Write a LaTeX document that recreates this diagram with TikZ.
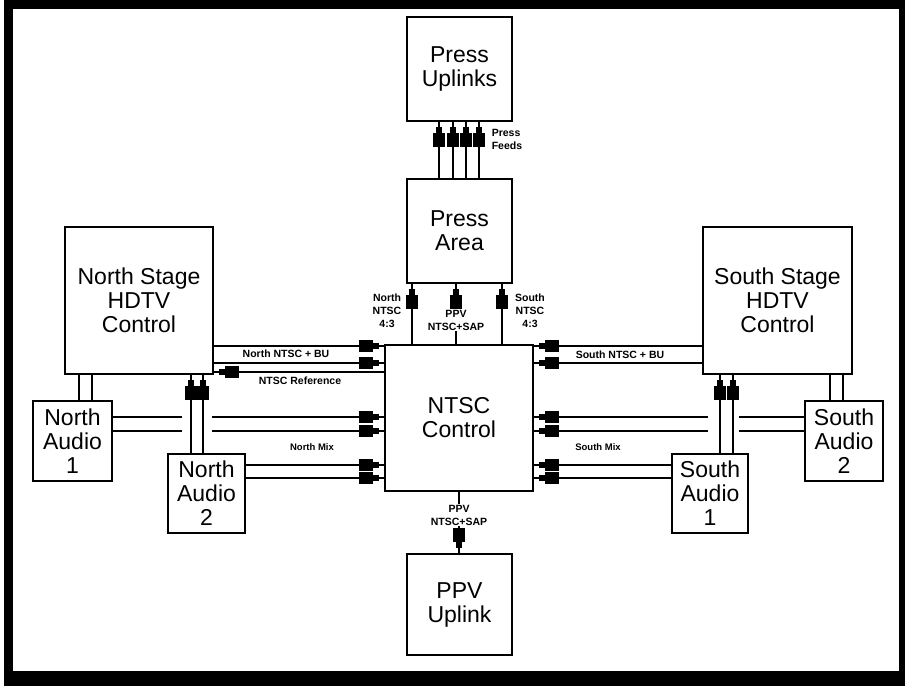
\documentclass[tikz,border=0pt]{standalone}
\usepackage{fontspec}
\setmainfont{Liberation Sans}
\usetikzlibrary{arrows.meta, positioning}

\begin{document}
\begin{tikzpicture}[x=1pt, y=-1pt, line width=1.5pt,
    unit/.style={draw, line width=1.5pt, align=center, inner sep=0pt,
        font=\fontsize{23}{24}\selectfont},
    tag/.style={align=center, inner sep=1pt,
        font=\fontsize{10.5}{13}\selectfont\bfseries},
    plug/.style={-{Rectangle[length=14pt,width=12pt,line width=0pt]%
        Rectangle[length=6pt,width=6pt,line width=0pt]%
        Rectangle[length=5pt,width=1.5pt,line width=0pt]}}]

    % frame
    \useasboundingbox (0,0) rectangle (905,686);
    \fill (4,0) rectangle (905,686);
    \fill[white] (13,9) rectangle (899,671);

    % units
    \node[unit, minimum width=105pt, minimum height=104pt] (uplinks) at (459.5,69) {Press\\Uplinks};
    \node[unit, minimum width=105pt, minimum height=104pt] (press) at (459.5,231) {Press\\Area};
    \node[unit, minimum width=148pt, minimum height=146pt] (ntsc) at (459,418) {NTSC\\Control};
    \node[unit, minimum width=105pt, minimum height=101pt] (ppv) at (459.5,604.5) {PPV\\Uplink};
    \node[unit, minimum width=148pt, minimum height=147pt] (nstage) at (139,300.5) {North Stage\\HDTV\\Control};
    \node[unit, minimum width=149pt, minimum height=147pt] (sstage) at (777.5,300.5) {South Stage\\HDTV\\Control};
    \node[unit, minimum width=79pt, minimum height=80pt] (naudioA) at (72.5,441) {North\\Audio\\1};
    \node[unit, minimum width=77pt, minimum height=79pt] (naudioB) at (206.5,493.5) {North\\Audio\\2};
    \node[unit, minimum width=76pt, minimum height=79pt] (saudioA) at (710,493.5) {South\\Audio\\1};
    \node[unit, minimum width=78pt, minimum height=80pt] (saudioB) at (844,441) {South\\Audio\\2};

    % press feeds
    \foreach \x in {439,453,466,479}
        \draw[plug] (\x,0 |- press.north) -- (\x,0 |- uplinks.south);
    \node[tag, align=left, anchor=west] (feeds) at (490,139) {Press\\Feeds};

    % ntsc to press area
    \draw[plug] (412,0 |- ntsc.north) -- (412,0 |- press.south);
    \node[tag] (nfeed) at (387,311) {North\\NTSC\\4:3};
    \draw[plug] (456,0 |- ntsc.north) -- node[tag, fill=white, pos=.4] (ppvup) {PPV\\NTSC+SAP} (456,0 |- press.south);
    \draw[plug] (502,0 |- ntsc.north) -- (502,0 |- press.south);
    \node[tag] (sfeed) at (530,311) {South\\NTSC\\4:3};

    % stage feeds
    \foreach \y in {346,363} {
        \draw[plug] (nstage.east |- 0,\y) -- (ntsc.west |- 0,\y);
        \draw[plug] (sstage.west |- 0,\y) -- (ntsc.east |- 0,\y);
    }
    \node[tag] (nbu) at (286,354) {North NTSC + BU};
    \node[tag] (sbu) at (620,355) {South NTSC + BU};
    \draw[plug] (ntsc.west |- 0,372) -- (nstage.east |- 0,372);
    \node[tag] (nref) at (300,381) {NTSC Reference};

    % mix lines
    \foreach \y in {417,431} {
        \draw[plug] (naudioA.east |- 0,\y) -- (ntsc.west |- 0,\y);
        \draw[plug] (saudioB.west |- 0,\y) -- (ntsc.east |- 0,\y);
    }
    \foreach \y in {465,478} {
        \draw[plug] (naudioB.east |- 0,\y) -- (ntsc.west |- 0,\y);
        \draw[plug] (saudioA.west |- 0,\y) -- (ntsc.east |- 0,\y);
    }
    \node[tag, font=\fontsize{9.5}{11}\selectfont\bfseries] (nmix) at (312,447) {North Mix};
    \node[tag, font=\fontsize{9.5}{11}\selectfont\bfseries] (smix) at (598,447) {South Mix};

    % gaps where lines cross
    \fill[white] (182,409) rectangle (212,439);
    \fill[white] (708,409) rectangle (739,439);

    % audio to stage
    \foreach \x in {191,203}
        \draw[plug] (\x,0 |- naudioB.north) -- (\x,0 |- nstage.south);
    \foreach \x in {720,733}
        \draw[plug] (\x,0 |- saudioA.north) -- (\x,0 |- sstage.south);
    \foreach \x in {79,92}
        \draw (\x,0 |- nstage.south) -- (\x,0 |- naudioA.north);
    \foreach \x in {830,843}
        \draw (\x,0 |- sstage.south) -- (\x,0 |- saudioB.north);

    % ntsc to ppv
    \draw[plug] (459,0 |- ntsc.south) -- node[tag, fill=white, pos=.38] (ppvdown) {PPV\\NTSC+SAP} (459,0 |- ppv.north);
\end{tikzpicture}
\end{document}
